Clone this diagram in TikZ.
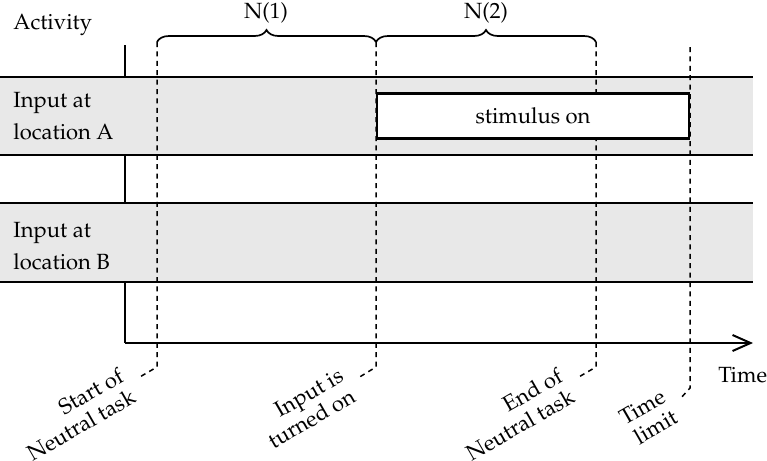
\documentclass[tikz,border=0pt]{standalone}
\usepackage[T1]{fontenc}
\usepackage{mathpazo}
\usetikzlibrary{arrows.meta,decorations.pathreplacing}
\begin{document}
\begin{tikzpicture}[x=0.5pt,y=-0.5pt,
  lbl/.style={font=\fontsize{11}{16}\selectfont, inner sep=0pt, align=left},
  band/.style={fill=black!9},
  bandline/.style={line width=0.8pt},
  guide/.style={dash pattern=on 2.5pt off 2.2pt, line width=0.75pt},
  rlab/.style={font=\fontsize{11}{12}\selectfont, align=right, rotate=30, anchor=east, inner xsep=6pt, inner ysep=0pt},
  bracestyle/.style={decorate, decoration={brace, amplitude=6pt}, line width=0.85pt},
  axis/.style={line width=1pt}
  ]
\useasboundingbox (0,0) rectangle (767,461);
% vertical axis
\coordinate (o) at (125,343);
\coordinate (ytop) at (125,45);
\coordinate (xend) at (753,343);
\draw[axis] (ytop) -- (o);
% bands
\fill[band] (0,77) rectangle (753,155);
\fill[band] (0,203) rectangle (753,282);
\draw[bandline] (0,77) -- (753,77) (0,155) -- (753,155);
\draw[bandline] (0,203) -- (753,203) (0,282) -- (753,282);
% labels
\node[lbl, anchor=base west] (act) at (13,29) {Activity};
\node[lbl, anchor=base west] (inA) at (13,139) {Input at\\location A};
\node[lbl, anchor=base west] (inB) at (13,269) {Input at\\location B};
\node[lbl, anchor=base west] (time) at (718,382) {Time};
% guide coordinates
\coordinate (t1) at (157,42); \coordinate (b1) at (157,367);
\coordinate (t2) at (376,42); \coordinate (b2) at (376,367);
\coordinate (t3) at (596,42); \coordinate (b3) at (596,367);
\coordinate (t4) at (690,47); \coordinate (b4) at (690,388);
\node[rlab] (l1) at (138,378) {Start of\\Neutral task};
\node[rlab] (l2) at (358,378) {Input is\\turned on};
\node[rlab] (l3) at (577,378) {End of\\Neutral task};
\node[rlab] (l4) at (680,399) {Time\\limit};
\draw[guide] (t1) -- (b1) -- (l1.east);
\draw[guide] (t2) -- (b2) -- (l2.east);
\draw[guide] (t3) -- (b3) -- (l3.east);
\draw[guide] (t4) -- (b4) -- (l4.east);
% stimulus box
\node[draw, line width=1.1pt, fill=white, minimum width=156pt, minimum height=22.5pt, inner sep=0pt, font=\fontsize{11}{13}\selectfont] (stim) at (533,116) {stimulus on};
% time axis
\draw[axis, -{Straight Barb[length=9pt,width=8pt,line width=1pt]}] (o) -- (xend);
% braces
\draw[bracestyle] (t1) -- (t2);
\draw[bracestyle] (t2) -- (t3);
\node[lbl] (n1) at (266,13) {N(1)};
\node[lbl] (n2) at (486,13) {N(2)};
\end{tikzpicture}
\end{document}
